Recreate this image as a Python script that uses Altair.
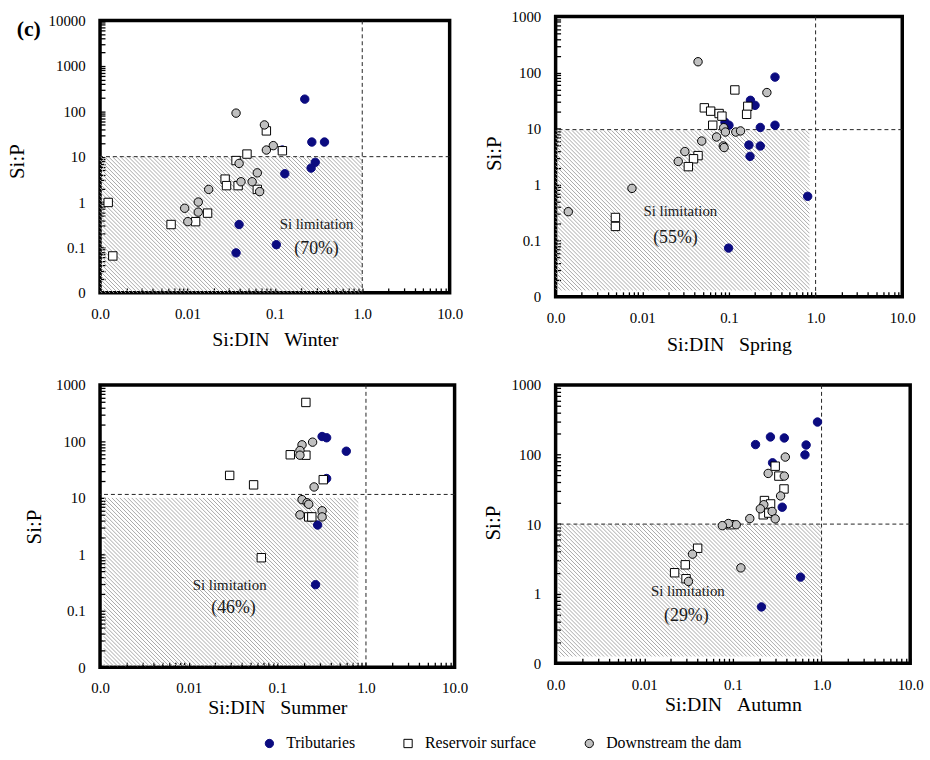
import math
import altair as alt
import pandas as pd

SERIF = "Liberation Serif"

SERIES = ["Tributaries", "Reservoir surface", "Downstream the dam"]
FILLS = ["#0b0b80", "#ffffff", "#c0c0c0"]
STROKES = ["#0b0b80", "#000000", "#000000"]
SHAPES = ["circle", "square", "circle"]

X_DOMAIN = [0.001, 10]
X_TICKS = [0.001, 0.01, 0.1, 1, 10]
X_TICK_LABELS = ["0.0", "0.01", "0.1", "1.0", "10.0"]

# ---------------- Winter ----------------
winter_trib_x = [0.22, 0.265, 0.37, 0.29, 0.26, 0.13, 0.122, 0.039, 0.104, 0.036]
winter_trib_y = [185, 21, 21, 7.5, 5.6, 4.2, 14, 0.32, 0.115, 0.076]
winter_res_x = [0.00124, 0.0014, 0.0065, 0.0124, 0.017, 0.027, 0.028, 0.038, 0.036, 0.048, 0.063, 0.08, 0.122]
winter_res_y = [0.98, 0.065, 0.32, 0.37, 0.57, 3.2, 2.3, 2.3, 8.2, 11.4, 1.9, 37, 13.5]
winter_down_x = [0.036, 0.076, 0.096, 0.08, 0.039, 0.063, 0.055, 0.041, 0.067, 0.0175, 0.0133, 0.0133, 0.0093, 0.0101]
winter_down_y = [91, 50, 17.5, 14, 7.1, 4.4, 2.8, 2.8, 1.7, 1.9, 1.0, 0.6, 0.73, 0.37]

# ---------------- Spring ----------------
spring_trib_x = [0.34, 0.177, 0.2, 0.09, 0.1, 0.23, 0.34, 0.17, 0.23, 0.175, 0.81, 0.099]
spring_trib_y = [83, 32, 26, 13, 11.5, 10.5, 11.5, 5.1, 4.9, 3.2, 0.62, 0.074]
spring_res_x = [0.117, 0.052, 0.0615, 0.077, 0.083, 0.165, 0.16, 0.065, 0.044, 0.039, 0.034, 0.0049, 0.0049]
spring_res_y = [49, 23.5, 20.5, 18.6, 16.7, 25, 18, 11.5, 3.3, 2.9, 2.1, 0.26, 0.18]
spring_down_x = [0.044, 0.274, 0.087, 0.091, 0.12, 0.136, 0.072, 0.0485, 0.086, 0.088, 0.031, 0.026, 0.0076, 0.0014]
spring_down_y = [156, 44, 10.4, 8.7, 8.7, 9.1, 7.1, 6.0, 4.9, 4.6, 3.9, 2.6, 0.86, 0.33]

# ---------------- Summer ----------------
summer_trib_x = [0.32, 0.36, 0.6, 0.36, 0.285, 0.27]
summer_trib_y = [122, 116, 67, 22, 3.3, 0.29]
summer_res_x = [0.21, 0.14, 0.21, 0.029, 0.054, 0.33, 0.226, 0.245, 0.066]
summer_res_y = [490, 58, 57, 25, 17, 21, 4.6, 4.6, 0.87]
summer_down_x = [0.25, 0.19, 0.18, 0.18, 0.26, 0.19, 0.217, 0.226, 0.18, 0.32, 0.32]
summer_down_y = [97, 87, 69, 57, 15.6, 9.3, 8.2, 7.7, 5.0, 5.9, 4.6]

# ---------------- Autumn ----------------
autumn_trib_x = [0.9, 0.265, 0.38, 0.18, 0.67, 0.65, 0.28, 0.36, 0.58, 0.21]
autumn_trib_y = [293, 179, 173, 139, 137, 99, 76, 17.5, 1.73, 0.645]
autumn_res_x = [0.30, 0.33, 0.377, 0.227, 0.266, 0.22, 0.254, 0.093, 0.04, 0.029, 0.022, 0.0296]
autumn_res_y = [68, 49, 32, 21.8, 19.5, 13.6, 14.4, 9.8, 4.5, 2.6, 2.0, 1.64]
autumn_down_x = [0.39, 0.25, 0.38, 0.345, 0.223, 0.204, 0.277, 0.3, 0.155, 0.109, 0.089, 0.076, 0.035, 0.0315, 0.123]
autumn_down_y = [92, 53.5, 49, 25.4, 19, 16.6, 15.2, 11.9, 12, 9.8, 10.2, 9.5, 3.7, 1.5, 2.35]

SEASONS = ["Winter", "Spring", "Summer", "Autumn"]
PERCENTS = ["(70%)", "(55%)", "(46%)", "(29%)"]
NOTE_TEXT = "Si limitation"

Y_TICKS = {
    "Winter": [0.01, 0.1, 1, 10, 100, 1000, 10000],
    "Spring": [0.01, 0.1, 1, 10, 100, 1000],
    "Summer": [0.01, 0.1, 1, 10, 100, 1000],
    "Autumn": [0.1, 1, 10, 100, 1000],
}
Y_TICK_LABELS = {
    "Winter": ["0", "0.1", "1", "10", "100", "1000", "10000"],
    "Spring": ["0", "0.1", "1", "10", "100", "1000"],
    "Summer": ["0", "0.1", "1", "10", "100", "1000"],
    "Autumn": ["0", "1", "10", "100", "1000"],
}
# shaded "Si limitation" area (x0, x1) and (y0, y1)
HATCH_X = {"Winter": [0.001, 1.0], "Spring": [0.001, 0.85], "Summer": [0.0011, 0.82], "Autumn": [0.00108, 1.0]}
HATCH_Y = {"Winter": [0.01, 10], "Spring": [0.013, 9.3], "Summer": [0.0105, 10], "Autumn": [0.125, 10]}
# dashed reference lines
V_LINE = {"Winter": 1.0, "Spring": 1.0, "Summer": 1.0, "Autumn": 1.0}
H_LINE = {"Winter": 10, "Spring": 9.6, "Summer": 11.5, "Autumn": 10}
# annotation anchor points (data coordinates)
NOTE_XY = {"Winter": (0.30, 0.32), "Spring": (0.0275, 0.344), "Summer": (0.029, 0.286), "Autumn": (0.031, 1.09)}
PCT_XY = {"Winter": (0.30, 0.091), "Spring": (0.0241, 0.11), "Summer": (0.032, 0.113), "Autumn": (0.0298, 0.48)}

PANEL = {
    "Winter": dict(w=353, h=275, ytx=-83.5, yty=142, xty=47),
    "Spring": dict(w=350, h=283, ytx=-62, yty=138, xty=48),
    "Summer": dict(w=358, h=285, ytx=-66, yty=143, xty=41),
    "Autumn": dict(w=358, h=281, ytx=-62.5, yty=139, xty=42),
}

DATA = {
    "Winter": [(winter_trib_x, winter_trib_y), (winter_res_x, winter_res_y), (winter_down_x, winter_down_y)],
    "Spring": [(spring_trib_x, spring_trib_y), (spring_res_x, spring_res_y), (spring_down_x, spring_down_y)],
    "Summer": [(summer_trib_x, summer_trib_y), (summer_res_x, summer_res_y), (summer_down_x, summer_down_y)],
    "Autumn": [(autumn_trib_x, autumn_trib_y), (autumn_res_x, autumn_res_y), (autumn_down_x, autumn_down_y)],
}

HATCH_STEP_PX = 4.0   # spacing of the diagonal hatch lines (style)
TICK_IN = 5           # inward tick length (style)


def minor_ticks(major):
    vals = []
    for d in major[:-1]:
        vals += [d * k for k in range(1, 10)]
    vals.append(major[-1])
    return vals


def label_expr(values, labels):
    expr = "''"
    for v, l in reversed(list(zip(values, labels))):
        expr = f"datum.value == {v!r} ? '{l}' : ({expr})"
    return expr


def lg(a, b):
    return math.log10(b) - math.log10(a)


def hatch_frame(hx, hy, w, h, ydom):
    """Diagonal hatch pattern ('\\' direction) filling the shaded rectangle."""
    ppd_x = w / lg(*X_DOMAIN)
    ppd_y = h / lg(*ydom)
    hw = ppd_x * lg(hx[0], hx[1])
    hh = ppd_y * lg(hy[0], hy[1])
    rows = []
    c = HATCH_STEP_PX / 2
    while c < hw + hh:
        xa = max(0.0, c - hh)
        xb = min(hw, c)
        ya = c - xa
        yb = c - xb
        rows.append({
            "hx": hx[0] * 10 ** (xa / ppd_x), "hy": hy[0] * 10 ** (ya / ppd_y),
            "hx2": hx[0] * 10 ** (xb / ppd_x), "hy2": hy[0] * 10 ** (yb / ppd_y),
        })
        c += HATCH_STEP_PX
    return pd.DataFrame(rows)


LEGEND = alt.Legend(
    orient="none", legendX=163, legendY=726, direction="horizontal", title=None,
    labelFont=SERIF, labelFontSize=16, labelColor="black", symbolSize=70,
    symbolStrokeWidth=1, labelOffset=9, columnPadding=45,
)


def panel(season, tag=False):
    cfg = PANEL[season]
    w, h = cfg["w"], cfg["h"]
    yt = Y_TICKS[season]
    ydom = [yt[0], yt[-1]]
    xs = alt.Scale(type="log", domain=X_DOMAIN, nice=False)
    ys = alt.Scale(type="log", domain=ydom, nice=False)
    xaxis = alt.Axis(
        values=minor_ticks(X_TICKS), labelExpr=label_expr(X_TICKS, X_TICK_LABELS),
        title="Si:DIN\u00a0\u00a0\u00a0" + season, grid=False, domain=False,
        ticks=True, tickSize=TICK_IN, tickWidth=1.3, tickColor="black", offset=-TICK_IN,
        labelPadding=9 + TICK_IN, titleY=cfg["xty"] + TICK_IN, titleBaseline="middle", titleFontSize=20,
        titleFontWeight="normal", labelFontSize=15, labelFlush=False, labelOverlap=False,
    )
    yaxis = alt.Axis(
        values=minor_ticks(yt), labelExpr=label_expr(yt, Y_TICK_LABELS[season]),
        title="Si:P", grid=False, domain=False,
        ticks=True, tickSize=TICK_IN, tickWidth=1.3, tickColor="black", offset=-TICK_IN,
        labelPadding=10 + TICK_IN, titleX=cfg["ytx"] - TICK_IN, titleY=cfg["yty"], titleBaseline="middle",
        titleFontSize=21, titleFontWeight="normal", labelFontSize=15, labelFlush=False,
        labelOverlap=False,
    )

    hatch = alt.Chart(hatch_frame(HATCH_X[season], HATCH_Y[season], w, h, ydom)).mark_rule(
        color="#a8a8a8", strokeWidth=1
    ).encode(
        x=alt.X("hx:Q", scale=xs, axis=xaxis), x2="hx2:Q",
        y=alt.Y("hy:Q", scale=ys, axis=yaxis), y2="hy2:Q",
    )

    vrule = alt.Chart(pd.DataFrame({"v": [V_LINE[season]]})).mark_rule(
        color="#222222", strokeDash=[4, 3], strokeWidth=1
    ).encode(x=alt.X("v:Q", scale=xs))
    hrule = alt.Chart(pd.DataFrame({"v": [H_LINE[season]]})).mark_rule(
        color="#222222", strokeDash=[4, 3], strokeWidth=1
    ).encode(y=alt.Y("v:Q", scale=ys))

    rows = []
    for name, (xv, yv) in zip(SERIES, DATA[season]):
        for a, b in zip(xv, yv):
            rows.append({"sidin": a, "sip": b, "series": name})
    pts_df = pd.DataFrame(rows)
    points = alt.Chart(pts_df).mark_point(filled=True, size=72, strokeWidth=1, opacity=1).encode(
        x=alt.X("sidin:Q", scale=xs),
        y=alt.Y("sip:Q", scale=ys),
        shape=alt.Shape("series:N", scale=alt.Scale(domain=SERIES, range=SHAPES), legend=LEGEND),
        fill=alt.Fill("series:N", scale=alt.Scale(domain=SERIES, range=FILLS), legend=LEGEND),
        stroke=alt.Stroke("series:N", scale=alt.Scale(domain=SERIES, range=STROKES), legend=LEGEND),
    )

    nx, ny = NOTE_XY[season]
    px, py = PCT_XY[season]
    note = alt.Chart(pd.DataFrame({"x": [nx], "y": [ny], "t": [NOTE_TEXT]})).mark_text(
        font=SERIF, fontSize=15, color="#1a1a1a"
    ).encode(x=alt.X("x:Q", scale=xs), y=alt.Y("y:Q", scale=ys), text="t:N")
    pct = alt.Chart(pd.DataFrame({"x": [px], "y": [py], "t": [PERCENTS[SEASONS.index(season)]]})).mark_text(
        font=SERIF, fontSize=18, color="#1a1a1a"
    ).encode(x=alt.X("x:Q", scale=xs), y=alt.Y("y:Q", scale=ys), text="t:N")

    layers = [hatch, vrule, hrule, points, note, pct]
    if tag:
        tag_layer = alt.Chart(pd.DataFrame({"t": ["(c)"]})).mark_text(
            font=SERIF, fontSize=22, fontWeight="bold", color="black"
        ).encode(x=alt.value(-72), y=alt.value(9), text="t:N")
        layers.append(tag_layer)
    return alt.layer(*layers).properties(width=w, height=h)


chart = (
    alt.concat(
        panel("Winter", tag=True), panel("Spring"), panel("Summer"), panel("Autumn"),
        columns=2, spacing={"row": 89, "column": 102}, bounds="flush",
        center={"row": True, "column": False},
    )
    .properties(padding={"left": 4, "top": 4, "right": 5, "bottom": 5}, background="white")
    .configure_view(stroke="black", strokeWidth=3.5)
    .configure_axis(labelFont=SERIF, titleFont=SERIF, labelColor="black", titleColor="black")
    .configure_text(font=SERIF)
)

chart.save("out.html", embed_options={"renderer": "svg", "actions": False})
